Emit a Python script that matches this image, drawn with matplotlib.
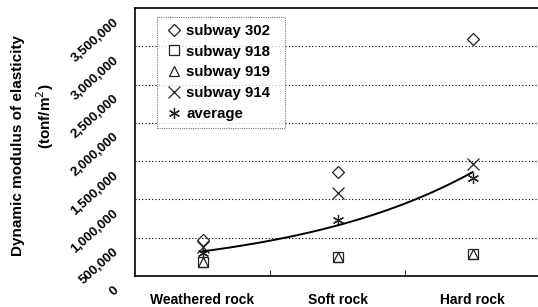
import numpy as np
import matplotlib
matplotlib.use('Agg')
import matplotlib.pyplot as plt
import matplotlib.transforms as mtransforms
from matplotlib.ticker import FuncFormatter

# values (tonf/m^2)
categories = ['Weathered rock', 'Soft rock', 'Hard rock']
subway_302 = [470000, 1360000, 3100000]
subway_918 = [185000, 250000, 290000]
subway_919 = [185000, 250000, 290000]
subway_914 = [380000, 1090000, 1460000]
average = [305000, 737000, 1285000]

plt.rcParams['font.family'] = ['Liberation Sans', 'DejaVu Sans']

fig = plt.figure(figsize=(5.38, 3.07), dpi=100)
ax = fig.add_axes([0.251, 0.101, 0.753, 0.873])

x = np.arange(len(categories))
kw = dict(linestyle='none', markerfacecolor='none', markeredgecolor='#222222',
          markeredgewidth=0.9, color='#222222')
ax.plot(x, subway_302, marker='D', markersize=6, label='subway 302  ', **kw)
ax.plot(x, subway_918, marker='s', markersize=7, label='subway 918  ', **kw)
ax.plot(x, subway_919, marker='^', markersize=7, label='subway 919  ', **kw)
ax.plot(x, subway_914, marker='x', markersize=8, label='subway 914  ', **kw)
ax.plot(x, average, marker=(6, 2, 0), markersize=8, label='average', **kw)

# exponential trend line through the averages
b, a = np.polyfit(x, np.log(average), 1)
xs = np.linspace(0, 2, 100)
ax.plot(xs, np.exp(a + b * xs), color='black', lw=1.4)

ax.set_xlim(-0.5, 2.5)
ax.set_ylim(0, 3500000)
ax.set_yticks(np.arange(0, 3500001, 500000))
ax.yaxis.set_major_formatter(FuncFormatter(lambda v, p: f'{int(v):,}'))
ax.tick_params(axis='y', length=0, pad=16)
shift = mtransforms.ScaledTranslation(0, -8 / 100, fig.dpi_scale_trans)
for t in ax.get_yticklabels():
    t.set_rotation(42)
    t.set_rotation_mode('anchor')
    t.set_ha('right')
    t.set_va('top')
    t.set_fontsize(9.5)
    t.set_fontweight('bold')
    t.set_transform(t.get_transform() + shift)

ax.set_xticks(x)
ax.set_xticklabels(categories, fontsize=10, fontweight='bold')
ax.set_xticks([0.5, 1.5], minor=True)
ax.tick_params(axis='x', which='major', length=0, pad=12)
ax.tick_params(axis='x', which='minor', direction='in', length=4)

for v in np.arange(500000, 3500000, 500000):
    ax.axhline(v, color='black', lw=0.8, linestyle=(0, (1, 2)), zorder=0)

for s in ax.spines.values():
    s.set_linewidth(1.2)

fig.text(0.034, 0.527, 'Dynamic modulus of elasticity', rotation=90,
         ha='center', va='center', fontsize=11, fontweight='bold')
fig.text(0.084, 0.62, '(tonf/m$^2$)', rotation=90,
         ha='center', va='center', fontsize=11, fontweight='bold')

leg = ax.legend(loc='upper left', bbox_to_anchor=(0.054, 0.966), frameon=True,
                fancybox=False, handlelength=1.4, borderaxespad=0,
                handletextpad=0.1, borderpad=0.45, labelspacing=0.45,
                prop={'weight': 'bold', 'size': 10.8})
leg.get_frame().set_edgecolor('#555555')
leg.get_frame().set_linestyle((0, (1, 1)))
leg.get_frame().set_linewidth(0.8)

fig.savefig('out.png', dpi=100)
